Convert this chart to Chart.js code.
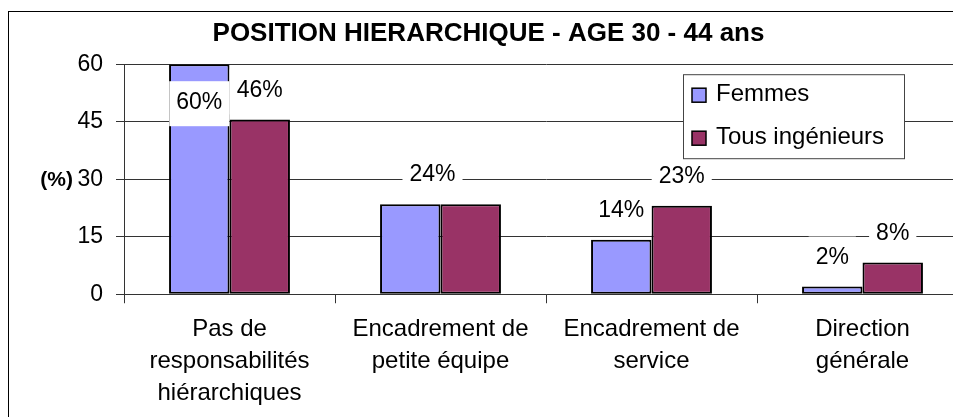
<!DOCTYPE html>
<html>
<head>
<meta charset="utf-8">
<script src="https://cdn.jsdelivr.net/npm/chart.js@4"></script>
<style>
    html, body { margin: 0; background: #fff; overflow: hidden; }
    #frame { position: absolute; left: 8px; top: 11px; width: 1000px; height: 420px; border: 1px solid #000; background: #fff; }
</style>
</head>
<body>
<div id="frame"><canvas id="chart"></canvas></div>
<script>
const categories = [
    ['Pas de', 'responsabilités', 'hiérarchiques'],
    ['Encadrement de', 'petite équipe'],
    ['Encadrement de', 'service'],
    ['Direction', 'générale']
];
const seriesNames = ['Femmes', 'Tous ingénieurs'];
const femmes = [60, 23.5, 14.2, 2.0];
const tousIngenieurs = [45.6, 23.5, 23.1, 8.3];
const yTicks = [0, 15, 30, 45, 60];

const FONT = '"Liberation Sans", Arial, sans-serif';

// Percent labels above the bars, on a white box like the original
const barLabels = {
    id: 'barLabels',
    afterDatasetsDraw(chart) {
        const ctx = chart.ctx;
        const area = chart.chartArea;
        ctx.save();
        ctx.font = '23px ' + FONT;
        ctx.textAlign = 'center';
        ctx.textBaseline = 'middle';
        categories.forEach((cat, i) => {
            const items = chart.data.datasets.map((ds, d) => {
                const el = chart.getDatasetMeta(d).data[i];
                return { x: el.x, y: el.y, v: ds.data[i] };
            });
            // equal values in one category: Excel shows one label only
            let toDraw = items;
            if (items.every(it => it.v === items[0].v)) {
                const cx = items.reduce((acc, it) => acc + it.x, 0) / items.length;
                toDraw = [{ x: cx - 8, y: items[0].y, v: items[0].v }];
            }
            toDraw.forEach(it => {
                const text = Math.round(it.v) + '%';
                const w = ctx.measureText(text).width + 14;
                let cy = it.y - 29;
                if (cy - 20 < area.top) cy = it.y + 38;
                ctx.fillStyle = '#fff';
                ctx.fillRect(it.x - w / 2, cy - 21, w, 45);
                ctx.fillStyle = '#000';
                ctx.fillText(text, it.x, cy);
            });
        });
        ctx.restore();
    }
};

// Boxed legend inside the plot, plus the horizontal "(%)" axis caption
const boxLegend = {
    id: 'boxLegend',
    afterDraw(chart) {
        const ctx = chart.ctx;
        const area = chart.chartArea;
        const x = area.right - 285, y = area.top + 10, w = 221, h = 84;
        ctx.save();
        ctx.fillStyle = '#fff';
        ctx.fillRect(x, y, w, h);
        ctx.strokeStyle = '#444';
        ctx.lineWidth = 1;
        ctx.strokeRect(x + 0.5, y + 0.5, w, h);
        ctx.font = '24px ' + FONT;
        ctx.textAlign = 'left';
        ctx.textBaseline = 'middle';
        chart.data.datasets.forEach((ds, d) => {
            const cy = y + 20 + d * 43;
            ctx.fillStyle = ds.backgroundColor;
            ctx.fillRect(x + 9, cy - 6, 14, 14);
            ctx.strokeStyle = '#000';
            ctx.lineWidth = 1.5;
            ctx.strokeRect(x + 9, cy - 6, 14, 14);
            ctx.fillStyle = '#000';
            ctx.fillText(ds.label, x + 33, cy);
        });

        ctx.font = 'bold 21px ' + FONT;
        ctx.textAlign = 'right';
        ctx.fillText('(%)', 64, (area.top + area.bottom) / 2 + 1);
        ctx.restore();
    }
};

const ctx = document.getElementById('chart').getContext('2d');
new Chart(ctx, {
    type: 'bar',
    data: {
        labels: categories,
        datasets: [
            {
                label: seriesNames[0],
                data: femmes,
                backgroundColor: '#9999ff',
                borderColor: '#000',
                borderWidth: 2,
                borderSkipped: false
            },
            {
                label: seriesNames[1],
                data: tousIngenieurs,
                backgroundColor: '#993366',
                borderColor: '#000',
                borderWidth: 2,
                borderSkipped: false
            }
        ]
    },
    options: {
        responsive: true,
        maintainAspectRatio: false,
        animation: false,
        devicePixelRatio: 1,
        datasets: { bar: { categoryPercentage: 0.573, barPercentage: 1 } },
        layout: { padding: { top: 0, right: 41, bottom: 13, left: 0 } },
        plugins: {
            legend: { display: false },
            tooltip: { enabled: false },
            title: {
                display: true,
                text: 'POSITION HIERARCHIQUE - AGE 30 - 44 ans',
                color: '#000',
                font: { family: FONT, size: 26, weight: 'bold' },
                padding: { top: 6, bottom: 15 }
            }
        },
        scales: {
            x: {
                grid: { drawOnChartArea: false, offset: true, tickLength: 9, color: '#333' },
                border: { color: '#333' },
                ticks: {
                    color: '#000',
                    padding: 10,
                    maxRotation: 0,
                    autoSkip: false,
                    font: { family: FONT, size: 24, lineHeight: 1.33 }
                }
            },
            y: {
                min: yTicks[0],
                max: yTicks[yTicks.length - 1],
                afterBuildTicks(scale) { scale.ticks = yTicks.map(v => ({ value: v })); },
                afterFit(scale) { scale.width = 115; },
                grid: { color: '#333', tickLength: 8 },
                border: { color: '#333' },
                ticks: {
                    color: '#000',
                    padding: 13,
                    font: { family: FONT, size: 23 }
                }
            }
        }
    },
    plugins: [barLabels, boxLegend]
});
</script>
</body>
</html>
